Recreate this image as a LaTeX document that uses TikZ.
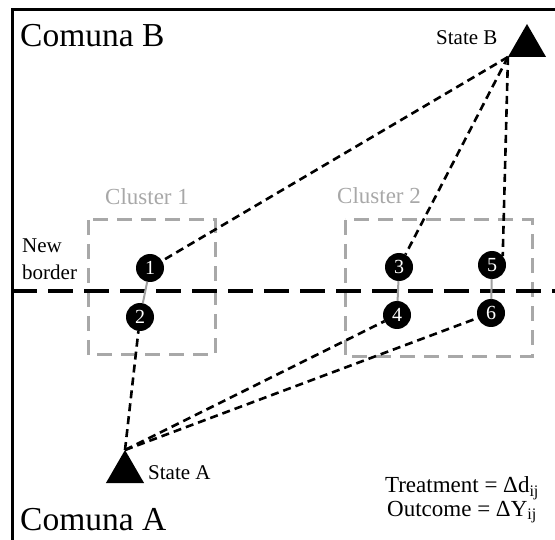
\documentclass[tikz,border=0pt]{standalone}
\usepackage{fontspec}
\setmainfont{Liberation Serif}
\usetikzlibrary{shapes.geometric}
\definecolor{clgray}{HTML}{A8A8A8}
\definecolor{pairgray}{HTML}{A0A0A0}

\begin{document}
\begin{tikzpicture}[x=1pt, y=-1pt,
    site/.style={circle, fill=black, minimum size=28pt, inner sep=0pt, outer sep=0pt, text=white, font=\fontsize{20}{20}\selectfont},
    state/.style={regular polygon, regular polygon sides=3, fill=black, minimum size=44pt, inner sep=0pt, outer sep=0pt},
    region/.style={anchor=base west, inner sep=0pt, font=\fontsize{33.5}{36}\selectfont},
    tag/.style={anchor=base west, inner sep=0pt, font=\fontsize{21}{25}\selectfont},
    cluster/.style={draw=clgray, line width=3pt, dash pattern=on 15pt off 9pt},
    clabel/.style={anchor=base west, inner sep=0pt, text=clgray, font=\fontsize{23}{26}\selectfont},
    link/.style={dash pattern=on 8pt off 5pt, line width=2.6pt},
    pair/.style={draw=pairgray, line width=2pt},
    defn/.style={anchor=base, inner sep=0pt, font=\fontsize{23}{23}\selectfont}
]
\useasboundingbox (0,0) rectangle (555,540);

% Frame
\draw[line width=3pt] (555,10) -- (12,10) -- (12,540);

% Regions
\node[region] (comB) at (20,47) {Comuna B};
\node[region] (comA) at (20,530) {Comuna A};

% Clusters
\draw[cluster] (88,220) rectangle (215,355);
\draw[cluster] (345,220) rectangle (532,357);
\node[clabel] (cl1) at (105,205) {Cluster 1};
\node[clabel] (cl2) at (337,204) {Cluster 2};

% New border
\draw[line width=4pt, dash pattern=on 25pt off 11pt] (12,291) -- (555,291);
\node[tag] (nb1) at (22,253) {New};
\node[tag] (nb2) at (22,280) {border};

% States
\node[state] (stB) at (527,46) {};
\node[state] (stA) at (125,472) {};
\node[tag] (labB) at (436,45) {State B};
\node[tag] (labA) at (148,479) {State A};

% Sites
\node[site] (n1) at (150,268) {1};
\node[site] (n2) at (140,317) {2};
\node[site] (n3) at (399,267) {3};
\node[site] (n4) at (397,315) {4};
\node[site] (n5) at (492,265) {5};
\node[site] (n6) at (491,313) {6};

% Pairs across the border
\draw[pair] (n1) -- (n2);
\draw[pair] (n3) -- (n4);
\draw[pair] (n5) -- (n6);

% Distances to the states
\draw[link] (stB.corner 2) -- (n1);
\draw[link] (stB.corner 2) -- (n3);
\draw[link] (stB.corner 2) -- (n5.40);
\draw[link] (stA.corner 1) -- (n2);
\draw[link] (stA.corner 1) -- (n4);
\draw[link] (stA.corner 1) -- (n6);

% Definitions
\node[defn] (treat) at (462,493) {Treatment = Δd\textsubscript{ij}};
\node[defn] (outc) at (462,516) {Outcome = ΔY\textsubscript{ij}};

\end{tikzpicture}
\end{document}
